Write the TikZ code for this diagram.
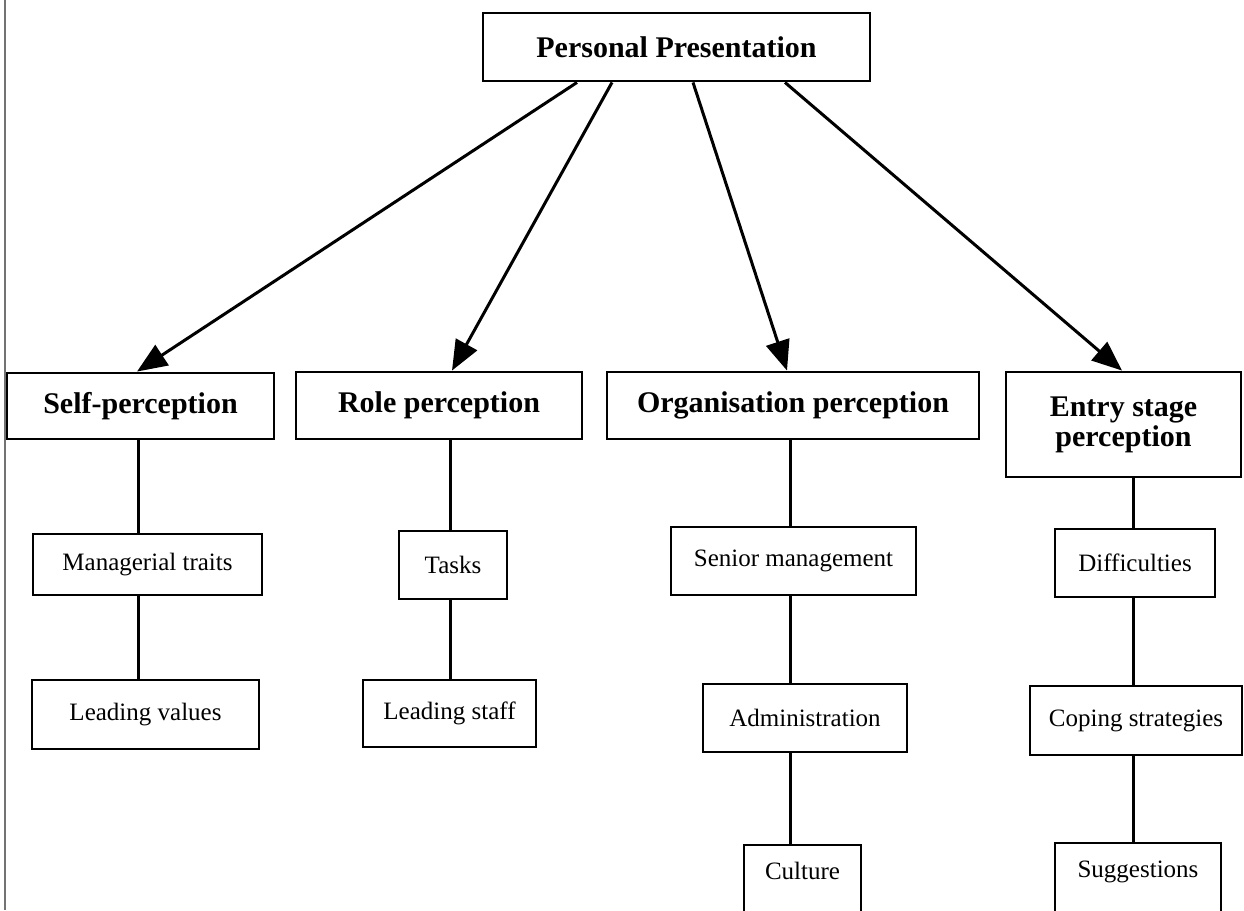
\documentclass[tikz,border=0pt]{standalone}
\usepackage{fontspec}
\setmainfont{Liberation Serif}
\usetikzlibrary{arrows.meta}
\begin{document}
\begin{tikzpicture}[x=1pt,y=-1pt,
  box/.style={draw, line width=2.9pt, inner sep=0pt, align=center},
  head/.style={box, font=\fontsize{30}{30}\selectfont\bfseries},
  leaf/.style={box, font=\fontsize{25}{26}\selectfont},
  arr/.style={line width=3pt, -{Triangle[length=30pt,width=24pt]}},
  link/.style={line width=3pt}]
\useasboundingbox (0,0) rectangle (1244,910);
\clip (0,0) rectangle (1244,910);

% page edge rule
\draw[line width=1.4pt, black!55] (5,0) -- (5,910);

% root
\node[head, minimum width=387pt, minimum height=68pt] (pp) at (676.5,47) {Personal Presentation};

% second level
\node[head, minimum width=267pt, minimum height=66pt] (self) at (140.5,406) {Self-perception};
\node[head, minimum width=286pt, minimum height=67pt] (role) at (439,405.5) {Role perception};
\node[head, minimum width=372pt, minimum height=67pt] (org)  at (793,405.5) {Organisation perception};
\node[head, minimum width=235pt, minimum height=105pt] (entry) at (1123.5,424.5) {Entry stage\\perception};

% third level: self
\node[leaf, minimum width=229pt, minimum height=61pt] (mgr)  at (147.5,564.5) {Managerial traits};
\node[leaf, minimum width=227pt, minimum height=69pt] (lval) at (145.5,714.5) {Leading values};
% role
\node[leaf, minimum width=108pt, minimum height=68pt] (task) at (453,565) {Tasks};
\node[leaf, minimum width=173pt, minimum height=67pt] (lstf) at (449.5,713.5) {Leading staff};
% organisation
\node[leaf, minimum width=245pt, minimum height=68pt] (snr)  at (793.5,561) {Senior management};
\node[leaf, minimum width=204pt, minimum height=68pt] (adm)  at (805,718) {Administration};
\node[leaf, minimum width=117pt, minimum height=80pt, text depth=28pt] (cult) at (802.5,885) {Culture};
% entry stage
\node[leaf, minimum width=160pt, minimum height=68pt] (diff) at (1135,563) {Difficulties};
\node[leaf, minimum width=212pt, minimum height=69pt] (cope) at (1136,720.5) {Coping strategies};
\node[leaf, minimum width=166pt, minimum height=80pt, text depth=28pt] (sugg) at (1138,883) {Suggestions};

% connector columns
\coordinate (s1) at (577,0);
\coordinate (s2) at (612,0);
\coordinate (s3) at (693,0);
\coordinate (s4) at (785,0);
\coordinate (t1) at (137,0);
\coordinate (t2) at (452,0);
\coordinate (t3) at (787,0);
\coordinate (t4) at (1122,0);
\coordinate (c1) at (138,0);
\coordinate (c2) at (450,0);
\coordinate (c3) at (790,0);
\coordinate (c4) at (1133,0);

% arrows from the root
\draw[arr] (pp.south -| s1) -- (self.north -| t1);
\draw[arr] (pp.south -| s2) -- (role.north -| t2);
\draw[arr] (pp.south -| s3) -- (org.north -| t3);
\draw[arr] (pp.south -| s4) -- (entry.north -| t4);

% vertical links
\draw[link] (self.south -| c1) -- (mgr.north -| c1);
\draw[link] (mgr.south -| c1) -- (lval.north -| c1);
\draw[link] (role.south -| c2) -- (task.north -| c2);
\draw[link] (task.south -| c2) -- (lstf.north -| c2);
\draw[link] (org.south -| c3) -- (snr.north -| c3);
\draw[link] (snr.south -| c3) -- (adm.north -| c3);
\draw[link] (adm.south -| c3) -- (cult.north -| c3);
\draw[link] (entry.south -| c4) -- (diff.north -| c4);
\draw[link] (diff.south -| c4) -- (cope.north -| c4);
\draw[link] (cope.south -| c4) -- (sugg.north -| c4);
\end{tikzpicture}
\end{document}
